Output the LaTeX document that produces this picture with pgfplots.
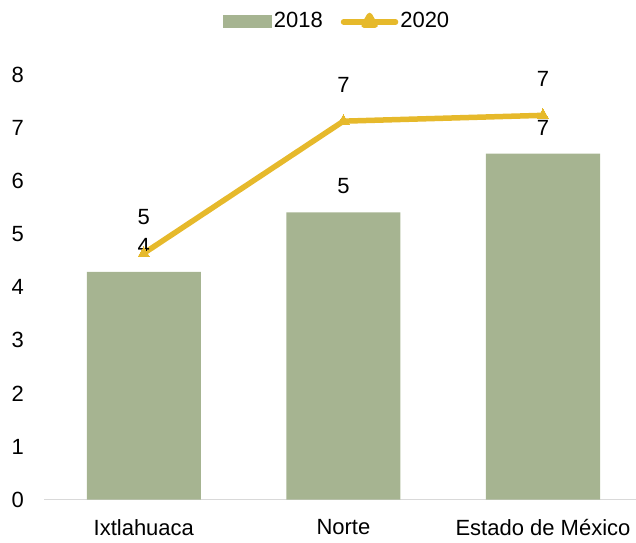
\documentclass[border=0pt]{standalone}
\usepackage{pgfplots}
\pgfplotsset{compat=1.18}
\usepackage{fontspec}
\setmainfont{Liberation Sans}
\definecolor{barg}{RGB}{166,180,145}
\definecolor{lyel}{RGB}{230,185,43}
\definecolor{axg}{RGB}{217,217,217}
\begin{document}
\fontsize{22}{26}\selectfont
\begin{tikzpicture}[font=\fontsize{22}{26}\selectfont]
\useasboundingbox (0pt,0pt) rectangle (636pt,542pt);
\begin{axis}[
  at={(44pt,42.5pt)}, anchor=south west,
  scale only axis, width=592pt, height=424.5pt,
  xmin=-0.5, xmax=2.466, ymin=0, ymax=8,
  enlargelimits=false, clip=false,
  axis x line=bottom, axis y line=left,
  x axis line style={-, draw=axg, line width=1.8pt},
  y axis line style={draw=none},
  major tick length=0pt,
  xtick={0,1,2}, xticklabels={Ixtlahuaca, Norte, Estado de México},
  ytick={0,1,2,3,4,5,6,7,8},
  /pgf/number format/assume math mode=true,
  yticklabel style={anchor=east, inner sep=0pt, xshift=-20pt},
  xticklabel style={anchor=north, inner sep=0pt, yshift=-19.5pt},
  legend columns=2,
  legend style={at={(0.495,1.125)}, anchor=center, draw=none, fill=none,
    inner sep=0pt, nodes={inner sep=2pt},
    /tikz/every even column/.append style={column sep=16pt}},
]
\addplot[ybar, bar width=114pt, fill=barg, draw=none,
  nodes near coords={\pgfmathprintnumber[fixed,precision=0]{\pgfplotspointmeta}},
  every node near coord/.append style={anchor=center, yshift=26pt, text=black},
  legend image code/.code={\fill[barg] (0pt,-6.5pt) rectangle (49pt,6.5pt);}]
  coordinates {(0,4.29) (1,5.41) (2,6.52)};
\addlegendentry{2018}
\addplot[color=lyel, line width=5.5pt, line join=round, line cap=round,
  mark=triangle*, mark size=6.5pt, mark options={solid, fill=lyel, draw=none, line width=0pt},
  nodes near coords={\pgfmathprintnumber[fixed,precision=0]{\pgfplotspointmeta}},
  every node near coord/.append style={anchor=center, yshift=36pt, text=black},
  legend image code/.code={\draw[lyel, line width=5.5pt, line cap=round] (0pt,0pt) -- (52pt,0pt);
    \fill[lyel] (26pt,0pt) ++(90:6.5pt) -- ++(-120:11.26pt) -- ++(0:11.26pt) -- cycle;}]
  coordinates {(0,4.64) (1,7.13) (2,7.24)};
\addlegendentry{2020}
\end{axis}
\end{tikzpicture}
\end{document}
